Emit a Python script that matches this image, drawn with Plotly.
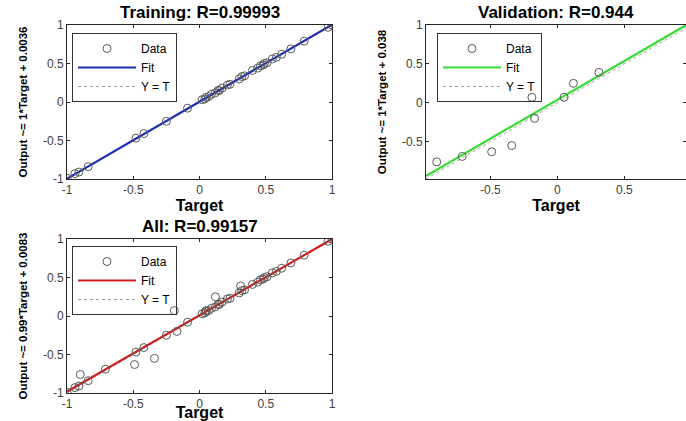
import plotly.graph_objects as go

# ---------------- data ----------------
train_target = [-1.00, -0.94, -0.91, -0.84, -0.48, -0.42, -0.25, -0.09, 0.02, 0.04, 0.05, 0.07,
                0.09, 0.12, 0.14, 0.15, 0.17, 0.21, 0.23, 0.30, 0.32, 0.34, 0.40, 0.44, 0.46,
                0.48, 0.49, 0.51, 0.55, 0.58, 0.62, 0.69, 0.79, 0.97, 1.00]
train_output = [-0.99, -0.93, -0.91, -0.84, -0.47, -0.41, -0.25, -0.08, 0.03, 0.04, 0.06, 0.07,
                0.10, 0.12, 0.15, 0.15, 0.18, 0.22, 0.23, 0.30, 0.33, 0.34, 0.41, 0.44, 0.47,
                0.48, 0.50, 0.51, 0.56, 0.58, 0.62, 0.69, 0.79, 0.97, 1.00]

val_target = [-0.90, -0.71, -0.49, -0.34, -0.19, -0.17, 0.05, 0.12, 0.31]
val_output = [-0.76, -0.69, -0.63, -0.55, 0.07, -0.20, 0.07, 0.25, 0.39]

all_target = train_target + val_target
all_output = train_output + val_output

# fit coefficients (slope, intercept)
train_fit = [1.0, 0.0036]
val_fit = [1.0, 0.038]
all_fit = [0.99, 0.0083]

# axis limits
train_xlim = [-1.0, 1.0]
train_ylim = [-1.0, 1.0]
val_xlim = [-0.98, 0.96]
val_ylim = [-0.98, 1.0]
all_xlim = [-1.0, 1.0]
all_ylim = [-1.0, 1.0]

titles = ["Training: R=0.99993", "Validation: R=0.944", "All: R=0.99157"]
ylabels = ["Output ~= 1*Target + 0.0036", "Output ~= 1*Target + 0.038",
           "Output ~= 0.99*Target + 0.0083"]
xlabel = "Target"
legend_names = ["Data", "Fit", "Y = T"]
tick_vals = [-1, -0.5, 0, 0.5, 1]
tick_text = ["-1", "-0.5", "0", "0.5", "1"]

# ---------------- figure ----------------
W, H = 686, 421
fig = go.Figure()

FONT = "Liberation Sans, Arial, sans-serif"
NARROW = "Liberation Sans Narrow, Arial Narrow, Liberation Sans, Arial, sans-serif"

panels = [
    dict(t=train_target, o=train_output, fit=train_fit, xl=train_xlim, yl=train_ylim,
         color="#1f2fb0", leg="legend"),
    dict(t=val_target, o=val_output, fit=val_fit, xl=val_xlim, yl=val_ylim,
         color="#36dc36", leg="legend2"),
    dict(t=all_target, o=all_output, fit=all_fit, xl=all_xlim, yl=all_ylim,
         color="#cf1e1e", leg="legend3"),
]

for i, p in enumerate(panels):
    sfx = "" if i == 0 else str(i + 1)
    xa = "x" + sfx
    ya = "y" + sfx
    lo = min(p["xl"][0], p["yl"][0])
    hi = max(p["xl"][1], p["yl"][1])
    line_x = [lo, hi]
    # Y = T
    fig.add_trace(go.Scatter(x=line_x, y=line_x, mode="lines", name=legend_names[2],
                             line=dict(color="#a0a0a0", width=1, dash="dot"),
                             xaxis=xa, yaxis=ya, legend=p["leg"], legendrank=3))
    # Fit
    fit_y = [p["fit"][0] * v + p["fit"][1] for v in line_x]
    fig.add_trace(go.Scatter(x=line_x, y=fit_y, mode="lines", name=legend_names[1],
                             line=dict(color=p["color"], width=2.2),
                             xaxis=xa, yaxis=ya, legend=p["leg"], legendrank=2))
    # Data
    fig.add_trace(go.Scatter(x=p["t"], y=p["o"], mode="markers", name=legend_names[0],
                             marker=dict(symbol="circle-open", size=8, color="#5a5a5a",
                                         line=dict(width=1)),
                             xaxis=xa, yaxis=ya, legend=p["leg"], legendrank=1))


def px_x(a, b):
    return [a / W, b / W]


def px_y(top, bottom):
    return [1 - bottom / H, 1 - top / H]


axis_common = dict(showline=True, linecolor="#262626", linewidth=1, mirror="ticks",
                   ticks="inside", ticklen=3, tickcolor="#262626", showgrid=False,
                   zeroline=False, tickvals=tick_vals, ticktext=tick_text, automargin=False,
                   tickfont=dict(family=FONT, size=12, color="#404040"))

domains = [
    (px_x(67, 332), px_y(25, 179)),
    (px_x(426, 686), px_y(25, 179)),
    (px_x(67, 332), px_y(239, 393)),
]

layout = dict(width=W, height=H, margin=dict(l=0, r=0, t=0, b=0, autoexpand=False),
              paper_bgcolor="white", plot_bgcolor="white", showlegend=True)

for i, p in enumerate(panels):
    sfx = "" if i == 0 else str(i + 1)
    dx, dy = domains[i]
    layout["xaxis" + sfx] = dict(axis_common, domain=dx, range=p["xl"], anchor="y" + sfx,
                                 title=dict(text=xlabel, standoff=0,
                                            font=dict(family=FONT, size=16, color="black",
                                                      weight="bold")))
    layout["yaxis" + sfx] = dict(axis_common, domain=dy, range=p["yl"], anchor="x" + sfx,
                                 title=dict(text=ylabels[i], standoff=12,
                                            font=dict(family=NARROW, size=11.5, color="black",
                                                      weight="bold")))

legend_pos = [(72, 33), (437, 33), (72, 246)]
for i, (lx, ly) in enumerate(legend_pos):
    key = "legend" if i == 0 else "legend" + str(i + 1)
    layout[key] = dict(x=lx / W, y=1 - ly / H, xanchor="left", yanchor="top",
                       bgcolor="rgba(255,255,255,0)", bordercolor="#333333", borderwidth=1,
                       font=dict(family=FONT, size=12, color="black"),
                       tracegroupgap=0, itemwidth=58)

annotations = []
for i, t in enumerate(titles):
    sfx = "" if i == 0 else str(i + 1)
    annotations.append(dict(text="<b>" + t + "</b>", xref="x" + sfx + " domain",
                            yref="y" + sfx + " domain", x=0.5, y=1, xanchor="center",
                            yanchor="bottom", showarrow=False, yshift=1,
                            font=dict(family=FONT, size=17, color="black")))
layout["annotations"] = annotations

fig.update_layout(**layout)
fig.write_html("out.html", config={"displayModeBar": False},
               post_script="document.body.style.margin='0px';document.body.style.overflow='hidden';")
